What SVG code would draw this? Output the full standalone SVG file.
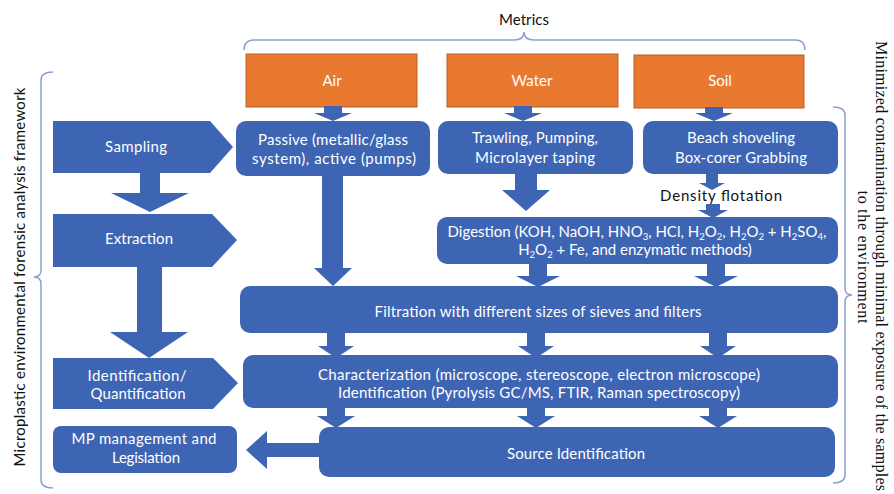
<svg xmlns="http://www.w3.org/2000/svg" width="894" height="494" viewBox="0 0 894 494">
<style>
.bx{fill:#3E65B4}
.og{fill:#E8792F;stroke:#B5612A;stroke-width:1}
.ar{fill:#3E65B4}
.br{fill:none;stroke:#8CA0CF;stroke-width:1.5}
.wt{fill:#fff;font-family:Lato,"Open Sans","Liberation Sans",sans-serif;font-size:15px;text-anchor:middle}
.bk{fill:#111;font-family:Lato,"Open Sans","Liberation Sans",sans-serif;font-size:15px;text-anchor:middle}
.sf{fill:#111;font-family:"Liberation Serif","Times New Roman",serif;font-size:16px;text-anchor:middle}
</style>
<rect width="894" height="494" fill="#fff"/>

<g id="braces">
<path class="br" d="M244,50 Q244,40 254,40 L514,40 Q524,40 524,32 Q524,40 534,40 L795,40 Q805,40 805,50"/>
<path class="br" d="M53,72 Q41,72 41,80 L41,270 Q41,277 34,277 Q41,277 41,284 L41,480 Q41,488 53,488"/>
<path class="br" d="M833,107 Q845,107 845,115 L845,288 Q845,295 852,295 Q845,295 845,302 L845,475 Q845,483 833,483"/>
</g>

<g id="labels">
<text class="bk" x="524" y="25" font-size="14" textLength="50">Metrics</text>
<text class="bk" transform="translate(25,277) rotate(-90)" textLength="379">Microplastic environmental forensic analysis framework</text>
<text class="sf" transform="translate(876,266) rotate(90)" textLength="450">Minimized contamination through minimal exposure of the samples</text>
<text class="sf" transform="translate(858,257) rotate(90)" textLength="133">to the environment</text>
</g>

<g id="air"><rect class="og" x="246" y="54" width="171" height="53"/><text class="wt" x="332" y="86">Air</text></g>
<g id="water"><rect class="og" x="447" y="54" width="171" height="53"/><text class="wt" x="532" y="86">Water</text></g>
<g id="soil"><rect class="og" x="634" y="55" width="170" height="53"/><text class="wt" x="720" y="86">Soil</text></g>

<g id="sampling"><path class="bx" d="M53,121 H210 L233,147 L210,173 H53 Z"/><text class="wt" x="136" y="152" textLength="62">Sampling</text></g>
<g id="extraction"><path class="bx" d="M53,214 H212 L237,240 L212,267 H53 Z"/><text class="wt" x="139" y="244" textLength="68">Extraction</text></g>
<g id="identification"><path class="bx" d="M53,358 H213 L238,383 L213,409 H53 Z"/><text class="wt" x="137" y="381" textLength="99">Identification/</text><text class="wt" x="138" y="399" textLength="95">Quantification</text></g>
<g id="mp"><rect class="bx" x="53" y="426" width="184" height="47" rx="8"/><text class="wt" x="144" y="444" textLength="145">MP management and</text><text class="wt" x="146" y="463" textLength="68">Legislation</text></g>

<g id="passive"><rect class="bx" x="236" y="121" width="194" height="55" rx="10"/><text class="wt" x="333" y="145" textLength="150">Passive (metallic/glass</text><text class="wt" x="334" y="164" textLength="164">system), active (pumps)</text></g>
<g id="trawling"><rect class="bx" x="438" y="121" width="195" height="53" rx="10"/><text class="wt" x="535" y="143" textLength="126">Trawling, Pumping,</text><text class="wt" x="535" y="163" textLength="120">Microlayer taping</text></g>
<g id="beach"><rect class="bx" x="643" y="121" width="195" height="53" rx="10"/><text class="wt" x="741" y="143" textLength="108">Beach shoveling</text><text class="wt" x="741" y="163" textLength="132">Box-corer Grabbing</text></g>
<g id="density"><text class="bk" x="721" y="201" textLength="122">Density flotation</text></g>
<g id="digestion"><rect class="bx" x="437" y="217" width="401" height="47" rx="10"/>
<text class="wt" x="637" y="237" font-size="14">Digestion (KOH, NaOH, HNO<tspan dy="2.5" font-size="9.5">3</tspan><tspan dy="-2.5">, HCl, H</tspan><tspan dy="2.5" font-size="9.5">2</tspan><tspan dy="-2.5">O</tspan><tspan dy="2.5" font-size="9.5">2</tspan><tspan dy="-2.5">, H</tspan><tspan dy="2.5" font-size="9.5">2</tspan><tspan dy="-2.5">O</tspan><tspan dy="2.5" font-size="9.5">2</tspan><tspan dy="-2.5"> + H</tspan><tspan dy="2.5" font-size="9.5">2</tspan><tspan dy="-2.5">SO</tspan><tspan dy="2.5" font-size="9.5">4</tspan><tspan dy="-2.5">,</tspan></text>
<text class="wt" x="635" y="255" font-size="14.5">H<tspan dy="2.5" font-size="9.5">2</tspan><tspan dy="-2.5">O</tspan><tspan dy="2.5" font-size="9.5">2</tspan><tspan dy="-2.5"> + Fe, and enzymatic methods)</tspan></text></g>
<g id="filtration"><rect class="bx" x="240" y="286" width="598" height="47" rx="10"/><text class="wt" x="538" y="317" textLength="327">Filtration with different sizes of sieves and filters</text></g>
<g id="characterization"><rect class="bx" x="243" y="355" width="595" height="53" rx="10"/><text class="wt" x="539" y="380" textLength="442">Characterization (microscope, stereoscope, electron microscope)</text><text class="wt" x="539" y="398" textLength="402">Identification (Pyrolysis GC/MS, FTIR, Raman spectroscopy)</text></g>
<g id="source"><rect class="bx" x="319" y="427" width="516" height="50" rx="10"/><text class="wt" x="576" y="459" textLength="138">Source Identification</text></g>

<g id="connectors">
<path class="ar" d="M324,106 H342 V113 H352 L333,121 L314,113 H324 Z"/>
<path class="ar" d="M514,106 H532 V113 H542 L523,121 L504,113 H514 Z"/>
<path class="ar" d="M705,107 H723 V113 H733 L714,121 L695,113 H705 Z"/>
<path class="ar" d="M140,173 H160 V193 H189 L150,212 L111,193 H140 Z"/>
<path class="ar" d="M137,267 H162 V332 H188 L149,358 L110,332 H137 Z"/>
<path class="ar" d="M322,176 H343 V268 H352 L333,286 L314,268 H322 Z"/>
<path class="ar" d="M515,174 H537 V190 H550 L526,211 L502,190 H515 Z"/>
<path class="ar" d="M706,174 H718 V183 H725 L712,190 L699,183 H706 Z"/>
<path class="ar" d="M706,204 H720 V210 H728 L713,218 L698,210 H706 Z"/>
<path class="ar" d="M529,264 H547 V276 H560 L538,287 L516,276 H529 Z"/>
<path class="ar" d="M707,264 H725 V276 H738 L716,287 L694,276 H707 Z"/>
<path class="ar" d="M327,333 H345 V346 H354 L336,358 L318,346 H327 Z"/>
<path class="ar" d="M527,333 H545 V346 H554 L536,358 L518,346 H527 Z"/>
<path class="ar" d="M709,333 H727 V346 H736 L718,358 L700,346 H709 Z"/>
<path class="ar" d="M327,408 H345 V416 H355 L336,428 L317,416 H327 Z"/>
<path class="ar" d="M527,408 H545 V416 H555 L536,428 L517,416 H527 Z"/>
<path class="ar" d="M709,408 H727 V416 H737 L718,428 L699,416 H709 Z"/>
<path class="ar" d="M319,443 H267 V431 L246,450 L267,469 V457 H319 Z"/>
</g>
</svg>
